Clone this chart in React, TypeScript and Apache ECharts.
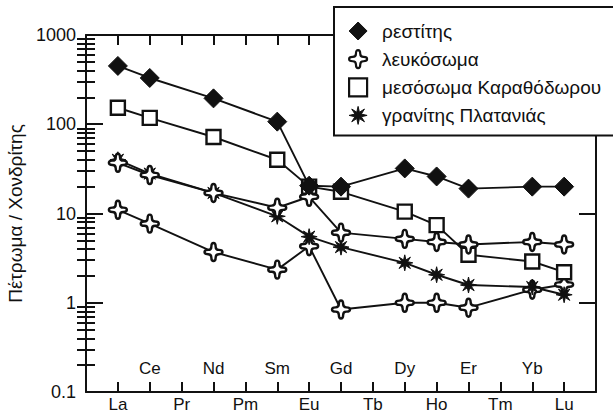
import React, { useEffect, useRef } from "react";
import * as echarts from "echarts";

// Rare-earth elements along the x axis (positions 1..15)
const ELEMENTS = ["La", "Ce", "Pr", "Nd", "Pm", "Sm", "Eu", "Gd", "Tb", "Dy", "Ho", "Er", "Tm", "Yb", "Lu"];
const BOTTOM_LABEL_POS = [1, 3, 5, 7, 9, 11, 13, 15];
const INNER_LABEL_POS = [2, 4, 6, 8, 10, 12, 14];
const X_TICK_POS = [1, 2, 3, 4, 5, 6, 7, 8, 9, 10, 11, 12, 13, 14, 15];

// Log y axis ticks
const Y_MAJOR = [0.1, 1, 10, 100, 1000];
const Y_MINOR = [
  0.2, 0.3, 0.4, 0.5, 0.6, 0.7, 0.8, 0.9,
  2, 3, 4, 5, 6, 7, 8, 9,
  20, 30, 40, 50, 60, 70, 80, 90,
  200, 300, 400, 500, 600, 700, 800, 900,
];

// Series values (rock / chondrite), null = not analysed
const RESTITE = [450, 330, null, 195, null, 107, 20.5, 20, null, 32, 26, 19, null, 20, 20];
const LEUCOSOME_A = [37, 27, null, 17, null, 11.6, 15.4, 6.1, null, 5.2, 4.8, 4.5, null, 4.8, 4.5];
const LEUCOSOME_B = [11, 7.7, null, 3.7, null, 2.35, 4.3, 0.84, null, 1.0, 1.0, 0.88, null, 1.4, 1.6];
const MESOSOME = [153, 118, null, 72, null, 40, 20, 17.5, null, 10.5, 7.4, 3.45, null, 2.9, 2.2];
const GRANITE = [40, 28, null, 17, null, 9.3, 5.5, 4.2, null, 2.8, 2.06, 1.58, null, 1.5, 1.23];

const NAME_RESTITE = "ρεστίτης";
const NAME_LEUCOSOME = "λευκόσωμα";
const NAME_MESOSOME = "μεσόσωμα Καραθόδωρου";
const NAME_GRANITE = "γρανίτης Πλατανιάς";

const FONT = "'Liberation Sans', Arial, Helvetica, sans-serif";
const INK = "#111";

const CROSS_PATH =
  "path://M50,0 Q62,0 62,20 Q62,38 80,38 Q100,38 100,50 Q100,62 80,62 Q62,62 62,80 Q62,100 50,100 Q38,100 38,80 Q38,62 20,62 Q0,62 0,50 Q0,38 20,38 Q38,38 38,20 Q38,0 50,0 Z";

function starPath(): string {
  const pts: string[] = [];
  for (let i = 0; i < 16; i++) {
    const a = (i * Math.PI) / 8 - Math.PI / 2;
    const r = i % 2 === 0 ? 50 : 19;
    pts.push(`${(50 + r * Math.cos(a)).toFixed(2)},${(50 + r * Math.sin(a)).toFixed(2)}`);
  }
  return "path://M" + pts.join(" L") + " Z";
}
const STAR_PATH = starPath();

function toPairs(vals: (number | null)[]) {
  const out: [number, number][] = [];
  vals.forEach((v, i) => {
    if (v !== null) out.push([i + 1, v]);
  });
  return out;
}

export default function App() {
  const ref = useRef<HTMLDivElement>(null);

  useEffect(() => {
    if (!ref.current) return;
    const chart = echarts.init(ref.current, null, { renderer: "svg" });

    const labelFmt = (v: number) => ELEMENTS[Math.round(v) - 1] ?? "";
    const baseLine = { color: INK, width: 2 };

    const mkSeries = (
      name: string,
      vals: (number | null)[],
      symbol: string,
      size: number,
      fill: string,
      border: number,
      z: number
    ) => ({
      type: "line",
      name,
      xAxisIndex: 0,
      yAxisIndex: 0,
      data: toPairs(vals),
      symbol,
      symbolSize: size,
      showSymbol: true,
      showAllSymbol: true,
      itemStyle: { color: fill, borderColor: INK, borderWidth: border, opacity: 1 },
      lineStyle: { color: INK, width: 1.9 },
      emphasis: { disabled: true },
      z,
    });

    const option: any = {
      animation: false,
      backgroundColor: "#fff",
      textStyle: { fontFamily: FONT },
      grid: { left: 86, right: 17, top: 35, bottom: 23, containLabel: false, outerBoundsMode: "none" },
      legend: {
        show: true,
        orient: "vertical",
        left: 334,
        top: 7,
        padding: [14, 40, 10, 14],
        backgroundColor: "#fff",
        borderColor: INK,
        borderWidth: 2,
        borderRadius: 0,
        itemWidth: 18,
        itemHeight: 18,
        itemGap: 8,
        selectedMode: false,
        textStyle: { fontFamily: FONT, fontSize: 19, color: INK, lineHeight: 20, padding: [0, 0, 0, 10] },
        data: [
          { name: NAME_RESTITE, icon: "diamond", itemStyle: { color: INK, borderColor: INK, borderWidth: 1 } },
          { name: NAME_LEUCOSOME, icon: CROSS_PATH, itemStyle: { color: "#fff", borderColor: INK, borderWidth: 2.2 } },
          { name: NAME_MESOSOME, icon: "rect", itemStyle: { color: "#fff", borderColor: INK, borderWidth: 2.2 } },
          { name: NAME_GRANITE, icon: STAR_PATH, itemStyle: { color: INK, borderColor: INK, borderWidth: 1 } },
        ],
        z: 10,
      },
      xAxis: [
        {
          type: "value",
          min: 0,
          max: 16,
          position: "bottom",
          axisLine: { show: true, onZero: false, lineStyle: baseLine },
          axisTick: { show: true, inside: true, length: 10, customValues: X_TICK_POS, lineStyle: baseLine },
          axisLabel: {
            show: true,
            customValues: BOTTOM_LABEL_POS,
            formatter: labelFmt,
            margin: 4,
            fontSize: 17,
            color: INK,
            fontFamily: FONT,
          },
          splitLine: { show: false },
        },
        {
          type: "value",
          min: 0,
          max: 16,
          position: "bottom",
          axisLine: { show: false },
          axisTick: { show: false },
          axisLabel: {
            show: true,
            inside: true,
            customValues: INNER_LABEL_POS,
            formatter: labelFmt,
            margin: 15,
            fontSize: 17,
            color: INK,
            fontFamily: FONT,
          },
          splitLine: { show: false },
        },
        {
          type: "value",
          min: 0,
          max: 16,
          position: "top",
          axisLine: { show: true, onZero: false, lineStyle: baseLine },
          axisTick: { show: true, inside: true, length: 10, customValues: X_TICK_POS, lineStyle: baseLine },
          axisLabel: { show: false },
          splitLine: { show: false },
        },
      ],
      yAxis: [
        {
          type: "log",
          min: 0.1,
          max: 1000,
          position: "left",
          name: "Πέτρωμα / Χονδρίτης",
          nameLocation: "middle",
          nameGap: 60,
          nameTextStyle: { fontSize: 19, color: INK, fontFamily: FONT },
          axisLine: { show: true, onZero: false, lineStyle: baseLine },
          axisTick: { show: true, inside: true, length: 17, customValues: Y_MAJOR, lineStyle: baseLine },
          axisLabel: {
            show: true,
            customValues: Y_MAJOR,
            formatter: (v: number) => String(v),
            margin: 10,
            fontSize: 18,
            color: INK,
            fontFamily: FONT,
          },
          splitLine: { show: false },
          minorTick: { show: false },
        },
        {
          type: "log",
          min: 0.1,
          max: 1000,
          position: "left",
          axisLine: { show: false },
          axisTick: { show: true, inside: true, length: 9, customValues: Y_MINOR, lineStyle: baseLine },
          axisLabel: { show: false },
          splitLine: { show: false },
        },
        {
          type: "log",
          min: 0.1,
          max: 1000,
          position: "right",
          axisLine: { show: true, onZero: false, lineStyle: baseLine },
          axisTick: { show: true, inside: true, length: 17, customValues: Y_MAJOR, lineStyle: baseLine },
          axisLabel: { show: false },
          splitLine: { show: false },
        },
        {
          type: "log",
          min: 0.1,
          max: 1000,
          position: "right",
          axisLine: { show: false },
          axisTick: { show: true, inside: true, length: 9, customValues: Y_MINOR, lineStyle: baseLine },
          axisLabel: { show: false },
          splitLine: { show: false },
        },
      ],
      series: [
        mkSeries(NAME_LEUCOSOME, LEUCOSOME_B, CROSS_PATH, 18, "#fff", 2.4, 3),
        mkSeries(NAME_GRANITE, GRANITE, STAR_PATH, 16, INK, 1, 3),
        mkSeries(NAME_MESOSOME, MESOSOME, "rect", 14, "#fff", 2.4, 3),
        mkSeries(NAME_LEUCOSOME, LEUCOSOME_A, CROSS_PATH, 18, "#fff", 2.4, 4),
        mkSeries(NAME_RESTITE, RESTITE, "diamond", 19, INK, 1, 5),
      ],
    };

    chart.setOption(option);
    return () => chart.dispose();
  }, []);

  return (
    <div
      ref={ref}
      style={{ position: "fixed", left: 0, top: 0, width: 613, height: 415, background: "#fff" }}
    />
  );
}
